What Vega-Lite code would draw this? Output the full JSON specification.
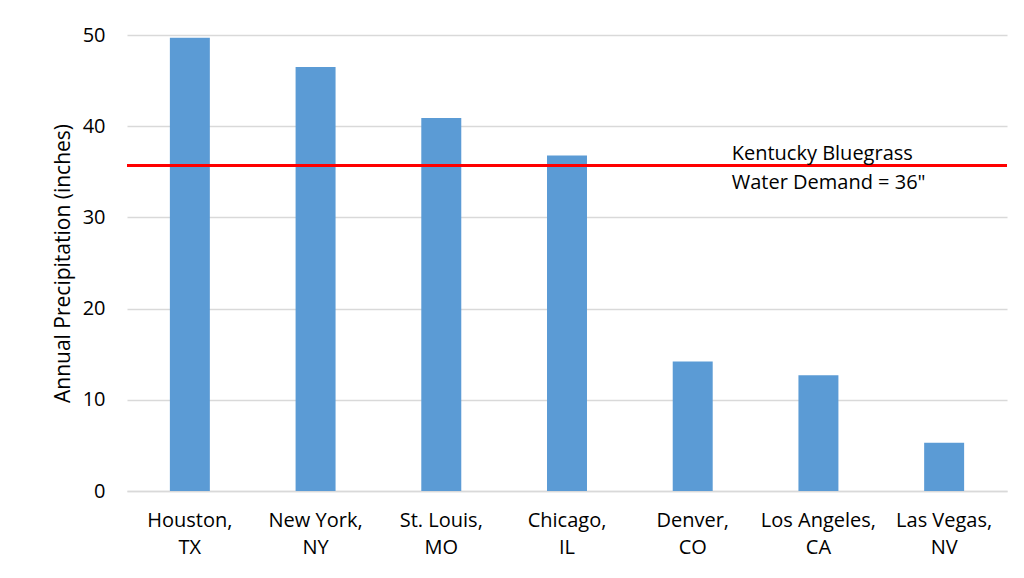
{
  "$schema": "https://vega.github.io/schema/vega-lite/v6.json",
  "width": 880,
  "height": 456,
  "autosize": {"type": "none"},
  "padding": {"left": 127, "top": 35, "right": 17, "bottom": 87},
  "background": "white",
  "config": {"view": {"stroke": null}, "font": "Open Sans"},
  "datasets": {
    "cities": [
      {"city": "Houston, TX", "precip": 49.7},
      {"city": "New York, NY", "precip": 46.5},
      {"city": "St. Louis, MO", "precip": 40.9},
      {"city": "Chicago, IL", "precip": 36.8},
      {"city": "Denver, CO", "precip": 14.2},
      {"city": "Los Angeles, CA", "precip": 12.7},
      {"city": "Las Vegas, NV", "precip": 5.3}
    ],
    "ref": [
      {"city": "Denver, CO", "value": 35.7, "note": "Kentucky Bluegrass\nWater Demand = 36\""}
    ]
  },
  "layer": [
    {
      "data": {"name": "cities"},
      "mark": {"type": "bar", "color": "#5b9bd5"},
      "encoding": {
        "x": {
          "field": "city", "type": "nominal", "sort": null,
          "scale": {"paddingInner": 0.682, "paddingOuter": 0.341,
            "domain": ["Houston, TX", "New York, NY", "St. Louis, MO", "Chicago, IL", "Denver, CO", "Los Angeles, CA", "Las Vegas, NV"]},
          "axis": {
            "title": null, "labelAngle": 0, "ticks": false,
            "domainColor": "#d9d9d9", "domainWidth": 1.5,
            "labelFontSize": 20, "labelColor": "#000000", "labelLineHeight": 27,
            "labelPadding": 19, "labelBaseline": "top",
            "labelExpr": "[split(datum.label, ', ')[0] + ',', split(datum.label, ', ')[1]]"
          }
        },
        "y": {
          "field": "precip", "type": "quantitative",
          "scale": {"domain": [0, 50]},
          "axis": {
            "values": [0, 10, 20, 30, 40, 50],
            "grid": true, "gridColor": "#d9d9d9", "gridWidth": 1.5,
            "domain": false, "ticks": false,
            "labelFontSize": 20, "labelColor": "#000000", "labelPadding": 22,
            "title": "Annual Precipitation (inches)", "titleFontSize": 21,
            "titleFontWeight": "normal", "titleColor": "#000000", "titlePadding": 9
          }
        }
      }
    },
    {
      "data": {"name": "ref"},
      "mark": {"type": "rule", "color": "#ff0000", "strokeWidth": 3},
      "encoding": {"y": {"field": "value", "type": "quantitative"}}
    },
    {
      "data": {"name": "ref"},
      "mark": {"type": "text", "align": "left", "baseline": "alphabetic", "dx": 39, "dy": -5, "lineBreak": "\n", "lineHeight": 29, "fontSize": 20, "color": "#000000"},
      "encoding": {
        "x": {"field": "city", "type": "nominal", "sort": null},
        "y": {"field": "value", "type": "quantitative"},
        "text": {"field": "note"}
      }
    }
  ]
}
